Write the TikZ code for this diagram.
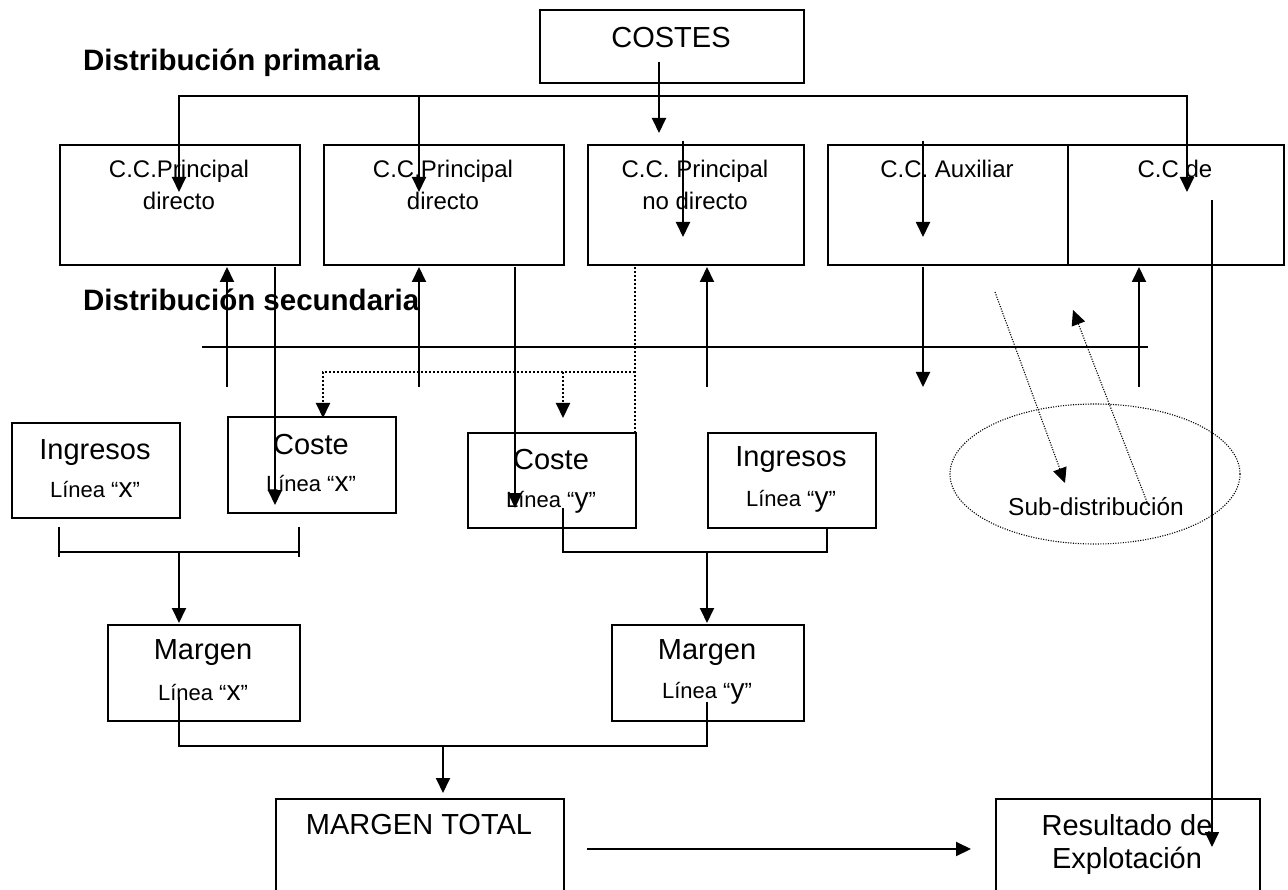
\documentclass[tikz,border=0pt]{standalone}
\usepackage{fontspec}
\setmainfont{Liberation Sans}
\usetikzlibrary{arrows.meta,shapes.geometric}
\newcommand\fsz[2]{\fontsize{#1}{#2}\selectfont}
\begin{document}
\begin{tikzpicture}[x=1pt,y=-1pt,
  box/.style={draw, line width=1.9pt, inner sep=0pt, anchor=north west},
  txt/.style={inner sep=0pt, align=center},
  big/.style={txt, font=\fsz{29}{31}},
  mid/.style={txt, font=\fsz{24}{32}},
  head/.style={inner sep=0pt, anchor=west, font=\bfseries\fsz{29.5}{32}},
  conn/.style={line width=1.9pt},
  tip/.style={-{Triangle[length=15pt,width=14pt]}},
  arr/.style={conn, tip},
  dotthick/.style={line width=2pt, dash pattern=on 2pt off 2pt},
  dotthin/.style={line width=1.1pt, dash pattern=on 1.1pt off 1.4pt},
  thinline/.style={line width=1.4pt}
]
\useasboundingbox (0,0) rectangle (1288,890);

% ---- boxes ----
\node[box, minimum width=264pt, minimum height=73pt] (costes) at (539,9) {};
\node[big] (costest) at (671,38) {COSTES};

\node[box, minimum width=240pt, minimum height=120pt] (b1) at (59,144) {};
\node[box, minimum width=240pt, minimum height=120pt] (b2) at (323,144) {};
\node[box, minimum width=216pt, minimum height=120pt] (b3) at (587,144) {};
\node[box, minimum width=240pt, minimum height=120pt] (b4) at (827,144) {};
\node[box, minimum width=216pt, minimum height=120pt] (b5) at (1067,144) {};

\node[mid] (b1t) at (179,185) {C.C.Principal\\directo};
\node[mid] (b2t) at (443,185) {C.C.Principal\\directo};
\node[mid] (b3t) at (695,185) {C.C. Principal\\no directo};
\node[mid] (b4t) at (947,169) {C.C. Auxiliar};
\node[mid] (b5t) at (1175,169) {C.C de};

\node[head] (hp) at (83,63) {Distribución primaria};
\node[head] (hs) at (83,300) {Distribución secundaria};

\node[box, minimum width=168pt, minimum height=95pt] (ix) at (11,422) {};
\node[box, minimum width=168pt, minimum height=96pt] (cx) at (227,416) {};
\node[box, minimum width=168pt, minimum height=95pt] (cy) at (467,432) {};
\node[box, minimum width=168pt, minimum height=95pt] (iy) at (707,432) {};

\node[big] (ixt1) at (95,453) {Ingresos};
\node[txt] (ixt2) at (95,490) {{\fsz{22}{26}Línea “}{\fsz{28}{30}x}{\fsz{22}{26}”}};
\node[big] (cxt1) at (311,445) {Coste};
\node[txt] (cxt2) at (311,484) {{\fsz{22}{26}Línea “}{\fsz{28}{30}x}{\fsz{22}{26}”}};
\node[big] (cyt1) at (551,460) {Coste};
\node[txt] (cyt2) at (551,502) {{\fsz{22}{26}Línea “}{\fsz{28}{30}y}{\fsz{22}{26}”}};
\node[big] (iyt1) at (791,460) {Ingresos};
\node[txt] (iyt2) at (791,501) {{\fsz{22}{26}Línea “}{\fsz{28}{30}y}{\fsz{22}{26}”}};

\node[draw, ellipse, dotthin, minimum width=290pt, minimum height=140pt, inner sep=0pt] (ell) at (1095,474) {};
\node[txt, font=\fsz{24.5}{28}] (ellt) at (1096,507) {Sub-distribución};

\node[box, minimum width=192pt, minimum height=96pt] (mx) at (107,624) {};
\node[box, minimum width=192pt, minimum height=96pt] (my) at (611,624) {};
\node[big] (mxt1) at (203,653) {Margen};
\node[txt] (mxt2) at (203,693) {{\fsz{22}{26}Línea “}{\fsz{28}{30}x}{\fsz{22}{26}”}};
\node[big] (myt1) at (707,653) {Margen};
\node[txt] (myt2) at (707,693) {{\fsz{22}{26}Línea “}{\fsz{28}{30}y}{\fsz{22}{26}”}};

\node[box, minimum width=288pt, minimum height=120pt] (mt) at (275,798) {};
\node[big] (mtt) at (419,825) {MARGEN TOTAL};
\node[box, minimum width=264pt, minimum height=120pt] (res) at (995,798) {};
\node[big] (rest1) at (1127,825) {Resultado de};
\node[big] (rest2) at (1127,861) {Explotación};

% ---- coordinates ----
\coordinate (cs) at (659,62);  \coordinate (ce) at (659,133);
\coordinate (d1) at (179,192); \coordinate (dl) at (179,96);
\coordinate (dr) at (1187,96); \coordinate (d5) at (1187,192);
\coordinate (d2s) at (419,96); \coordinate (d2) at (419,192);
\coordinate (i3s) at (683,141); \coordinate (i3e) at (683,237);
\coordinate (i4s) at (923,141); \coordinate (i4e) at (923,237);
\coordinate (u1s) at (227,387); \coordinate (u1e) at (227,267);
\coordinate (u2s) at (419,387); \coordinate (u2e) at (419,267);
\coordinate (u3s) at (707,387); \coordinate (u3e) at (707,267);
\coordinate (u5s) at (1139,387); \coordinate (u5e) at (1139,267);
\coordinate (a4s) at (923,267); \coordinate (a4e) at (923,387);
\coordinate (x1s) at (275,267); \coordinate (x1e) at (275,505);
\coordinate (x2s) at (515,267); \coordinate (x2e) at (515,508);
\coordinate (lgs) at (1212,200); \coordinate (lge) at (1212,847);
\coordinate (hl) at (202,347); \coordinate (hr) at (1148,347);
\coordinate (dv1) at (635,267); \coordinate (dv2) at (635,432);
\coordinate (dj) at (635,372); \coordinate (dk) at (323,372);
\coordinate (dke) at (323,418);
\coordinate (dm) at (563,372); \coordinate (dme) at (563,418);
\coordinate (g1s) at (995,292); \coordinate (g1e) at (1065,483);
\coordinate (g2s) at (1147,502); \coordinate (g2e) at (1073,310);
\coordinate (bxl1) at (59,527); \coordinate (bxl2) at (59,557);
\coordinate (bxr1) at (299,527); \coordinate (bxr2) at (299,557);
\coordinate (bxl) at (59,552); \coordinate (bxr) at (299,552);
\coordinate (bxm) at (179,552); \coordinate (bxe) at (179,623);
\coordinate (jys) at (563,508); \coordinate (jy1) at (563,552);
\coordinate (jy2) at (827,552); \coordinate (jye) at (827,527);
\coordinate (jym) at (707,552); \coordinate (jyme) at (707,623);
\coordinate (ms) at (179,697); \coordinate (m1) at (179,746);
\coordinate (m2) at (707,746); \coordinate (me) at (707,702);
\coordinate (mm) at (443,746); \coordinate (mme) at (443,793);
\coordinate (rs) at (587,849); \coordinate (re) at (971,849);

% ---- connectors ----
\draw[arr] (cs) -- (ce);
\draw[conn, {Triangle[length=15pt,width=14pt]}-{Triangle[length=15pt,width=14pt]}] (d1) -- (dl) -- (dr) -- (d5);
\draw[arr] (d2s) -- (d2);
\draw[arr] (i3s) -- (i3e);
\draw[arr] (i4s) -- (i4e);
\draw[arr] (u1s) -- (u1e);
\draw[arr] (u2s) -- (u2e);
\draw[arr] (u3s) -- (u3e);
\draw[arr] (u5s) -- (u5e);
\draw[arr] (a4s) -- (a4e);
\draw[arr] (x1s) -- (x1e);
\draw[arr] (x2s) -- (x2e);
\draw[arr, line width=1.6pt] (lgs) -- (lge);
\draw[thinline] (hl) -- (hr);
\draw[dotthick] (dv1) -- (dv2);
\draw[dotthick, tip] (dj) -- (dk) -- (dke);
\draw[dotthick, tip] (dm) -- (dme);
\draw[dotthin, tip] (g1s) -- (g1e);
\draw[dotthin, tip] (g2s) -- (g2e);
\draw[conn] (bxl1) -- (bxl2);
\draw[conn] (bxr1) -- (bxr2);
\draw[conn] (bxl) -- (bxr);
\draw[arr] (bxm) -- (bxe);
\draw[conn] (jys) -- (jy1) -- (jy2) -- (jye);
\draw[arr] (jym) -- (jyme);
\draw[conn] (ms) -- (m1) -- (m2) -- (me);
\draw[arr] (mm) -- (mme);
\draw[arr] (rs) -- (re);
\end{tikzpicture}
\end{document}
